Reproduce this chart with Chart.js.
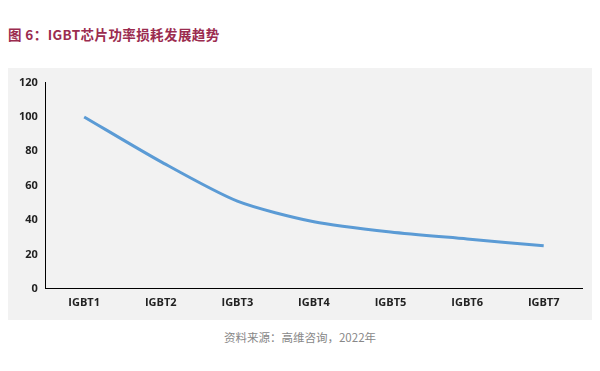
<!DOCTYPE html>
<html>
<head>
<meta charset="utf-8">
<script src="https://cdn.jsdelivr.net/npm/chart.js@4"></script>
<style>
  html, body { margin: 0; padding: 0; background: #fff; }
  body { width: 600px; height: 371px; position: relative; overflow: hidden; font-family: "Noto Sans CJK SC", "Noto Sans", sans-serif; }
  #title { position: absolute; left: 8px; top: 24px; font-size: 13.5px; font-weight: bold; color: #9b2c4f; letter-spacing: 0.4px; }
  #panel { position: absolute; left: 8px; top: 68px; width: 584px; height: 252px; background: #f2f2f2; }
  #source { position: absolute; left: 0; width: 600px; top: 329px; text-align: center; font-size: 11.5px; color: #888; }
</style>
</head>
<body>
<div id="title">图 6：IGBT芯片功率损耗发展趋势</div>
<div id="panel"><canvas id="lossChart" width="584" height="252"></canvas></div>
<div id="source">资料来源：高维咨询，2022年</div>
<script>
// IGBT 各代芯片功率损耗（相对值）
const categories = ['IGBT1', 'IGBT2', 'IGBT3', 'IGBT4', 'IGBT5', 'IGBT6', 'IGBT7'];
const lossValues = [100, 74, 51, 39, 33, 29, 25];
const yTicks = [0, 20, 40, 60, 80, 100, 120];

document.addEventListener('DOMContentLoaded', function() {
    const ctx = document.getElementById('lossChart');
    new Chart(ctx, {
        type: 'line',
        data: {
            labels: categories,
            datasets: [{
                label: '功率损耗',
                data: lossValues,
                borderColor: '#5b9bd5',
                borderWidth: 3,
                pointRadius: 0,
                tension: 0.25,
                fill: false
            }]
        },
        options: {
            responsive: false,
            animation: false,
            layout: {
                padding: { top: 14, right: 10, bottom: 4, left: 3 }
            },
            plugins: {
                legend: { display: false },
                tooltip: { enabled: false }
            },
            scales: {
                x: {
                    offset: true,
                    grid: { display: false, drawTicks: false },
                    border: { color: '#000', width: 1 },
                    ticks: {
                        color: '#222',
                        padding: 7,
                        font: { size: 11, weight: 'bold', family: '"Open Sans", "Noto Sans", sans-serif' }
                    }
                },
                y: {
                    min: 0,
                    max: 120,
                    afterBuildTicks: function(axis) {
                        axis.ticks = yTicks.map(v => ({ value: v }));
                    },
                    grid: { display: false, drawTicks: false },
                    border: { color: '#000', width: 1 },
                    ticks: {
                        color: '#222',
                        padding: 8,
                        font: { size: 11, weight: 'bold', family: '"Open Sans", "Noto Sans", sans-serif' }
                    }
                }
            }
        }
    });
});
</script>
</body>
</html>
